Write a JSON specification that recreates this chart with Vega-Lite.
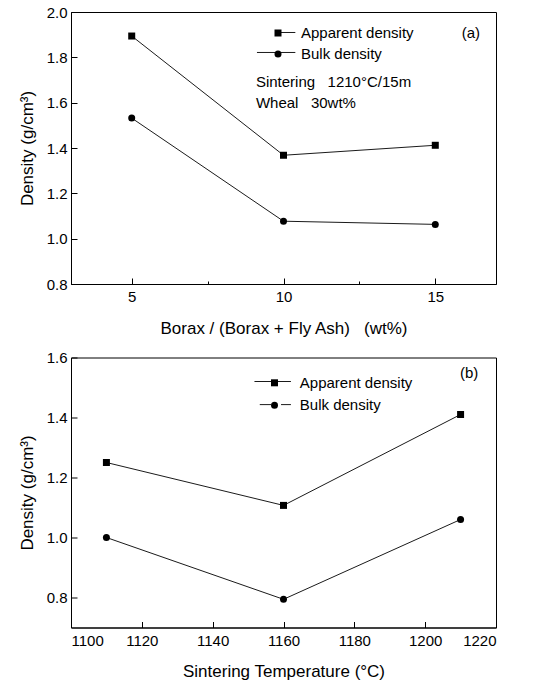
{
  "$schema": "https://vega.github.io/schema/vega-lite/v6.json",
  "background": "white",
  "padding": {"left": 17, "top": 4, "right": 5, "bottom": 5},
  "spacing": 12.5,
  "config": {
    "font": "Liberation Sans",
    "view": {"stroke": "black", "strokeWidth": 1},
    "axis": {
      "grid": false,
      "labelOverlap": false,
      "domainColor": "black",
      "tickColor": "black",
      "labelColor": "black",
      "titleColor": "black",
      "labelFont": "Liberation Sans",
      "titleFont": "Liberation Sans",
      "labelFontSize": 15,
      "titleFontSize": 17,
      "titleFontWeight": "normal"
    }
  },
  "datasets": {
    "a": [
      {"borax": 5, "density": 1.894, "series": "Apparent density"},
      {"borax": 10, "density": 1.368, "series": "Apparent density"},
      {"borax": 15, "density": 1.412, "series": "Apparent density"},
      {"borax": 5, "density": 1.532, "series": "Bulk density"},
      {"borax": 10, "density": 1.077, "series": "Bulk density"},
      {"borax": 15, "density": 1.063, "series": "Bulk density"}
    ],
    "b": [
      {"temp": 1110, "density": 1.25, "series": "Apparent density"},
      {"temp": 1160, "density": 1.107, "series": "Apparent density"},
      {"temp": 1210, "density": 1.41, "series": "Apparent density"},
      {"temp": 1110, "density": 1.0, "series": "Bulk density"},
      {"temp": 1160, "density": 0.794, "series": "Bulk density"},
      {"temp": 1210, "density": 1.06, "series": "Bulk density"}
    ]
  },
  "resolve": {"scale": {"shape": "independent"}, "legend": {"shape": "independent"}},
  "vconcat": [
    {
      "width": 425,
      "height": 272,
      "layer": [
        {
          "data": {"name": "a"},
          "mark": {"type": "line", "color": "black", "strokeWidth": 0.9},
          "encoding": {
            "x": {"field": "borax", "type": "quantitative",
              "scale": {"domain": [3, 17], "nice": false, "zero": false},
              "axis": {
                "title": "Borax / (Borax + Fly Ash)\u00a0\u00a0\u00a0(wt%)",
                "values": [5, 7.5, 10, 12.5, 15],
                "labelExpr": "datum.value % 5 == 0 ? datum.label : ''",
                "tickSize": {"condition": {"test": "datum.value % 5 != 0", "value": -3}, "value": -6},
                "labelPadding": 11.5,
                "titlePadding": 13
              }
            },
            "y": {"field": "density", "type": "quantitative",
              "scale": {"domain": [0.8, 2.0], "nice": false, "zero": false},
              "axis": {
                "title": "Density (g/cm³)",
                "values": [0.8, 0.9, 1.0, 1.1, 1.2, 1.3, 1.4, 1.5, 1.6, 1.7, 1.8, 1.9, 2.0],
                "format": ".1f",
                "labelExpr": "round(datum.value*10) % 2 == 0 ? datum.label : ''",
                "tickSize": {"condition": {"test": "round(datum.value*10) % 2 == 1", "value": -3}, "value": -6},
                "labelPadding": 10,
                "titlePadding": 10
              }
            },
            "detail": {"field": "series"}
          }
        },
        {
          "data": {"values": [{}]},
          "mark": {"type": "rule", "color": "black", "strokeWidth": 0.9},
          "encoding": {
            "x": {"datum": 9.80, "type": "quantitative"},
            "x2": {"datum": 10.39},
            "y": {"datum": 1.9096, "type": "quantitative"}
          }
        },
        {
          "data": {"values": [{}]},
          "mark": {"type": "rule", "color": "black", "strokeWidth": 0.9},
          "encoding": {
            "x": {"datum": 9.126, "type": "quantitative"},
            "x2": {"datum": 10.39},
            "y": {"datum": 1.8214, "type": "quantitative"}
          }
        },
        {
          "data": {"name": "a"},
          "mark": {"type": "point", "filled": true, "color": "black", "opacity": 1, "size": 49},
          "encoding": {
            "x": {"field": "borax", "type": "quantitative"},
            "y": {"field": "density", "type": "quantitative"},
            "shape": {"field": "series", "type": "nominal",
              "scale": {"domain": ["Apparent density", "Bulk density"], "range": ["square", "circle"]},
              "legend": {
                "title": null,
                "orient": "none",
                "legendX": 199.5,
                "legendY": 13.5,
                "padding": 0,
                "symbolSize": 49,
                "symbolStrokeWidth": 0,
                "symbolFillColor": "black",
                "labelFontSize": 15,
                "labelFont": "Liberation Sans",
                "labelColor": "black",
                "labelOffset": 15.5,
                "rowPadding": 5
              }
            }
          }
        },
        {
          "data": {"values": [{}]},
          "mark": {"type": "text", "fontSize": 15, "font": "Liberation Sans", "color": "black", "align": "center", "baseline": "middle"},
          "encoding": {
            "x": {"datum": 16.17, "type": "quantitative"},
            "y": {"datum": 1.909, "type": "quantitative"},
            "text": {"value": "(a)"}
          }
        },
        {
          "data": {"values": [{}]},
          "mark": {"type": "text", "fontSize": 15, "font": "Liberation Sans", "color": "black", "align": "left", "baseline": "middle"},
          "encoding": {
            "x": {"datum": 9.09, "type": "quantitative"},
            "y": {"datum": 1.691, "type": "quantitative"},
            "text": {"value": "Sintering\u00a0\u00a0\u00a01210°C/15m"}
          }
        },
        {
          "data": {"values": [{}]},
          "mark": {"type": "text", "fontSize": 15, "font": "Liberation Sans", "color": "black", "align": "left", "baseline": "middle"},
          "encoding": {
            "x": {"datum": 9.09, "type": "quantitative"},
            "y": {"datum": 1.599, "type": "quantitative"},
            "text": {"value": "Wheal\u00a0\u00a0\u00a030wt%"}
          }
        }
      ]
    },
    {
      "width": 425,
      "height": 270,
      "layer": [
        {
          "data": {"name": "b"},
          "mark": {"type": "line", "color": "black", "strokeWidth": 0.9},
          "encoding": {
            "x": {"field": "temp", "type": "quantitative",
              "scale": {"domain": [1100, 1220], "nice": false, "zero": false},
              "axis": {
                "title": "Sintering Temperature (°C)",
                "values": [1100, 1110, 1120, 1130, 1140, 1150, 1160, 1170, 1180, 1190, 1200, 1210, 1220],
                "format": "d",
                "labelExpr": "datum.value % 20 == 0 ? datum.label : ''",
                "tickSize": {"condition": {"test": "datum.value % 20 != 0", "value": -3}, "value": -6},
                "labelPadding": 11.5,
                "titlePadding": 15
              }
            },
            "y": {"field": "density", "type": "quantitative",
              "scale": {"domain": [0.7, 1.6], "nice": false, "zero": false},
              "axis": {
                "title": "Density (g/cm³)",
                "values": [0.8, 0.9, 1.0, 1.1, 1.2, 1.3, 1.4, 1.5, 1.6],
                "format": ".1f",
                "labelExpr": "round(datum.value*10) % 2 == 0 ? datum.label : ''",
                "tickSize": {"condition": {"test": "round(datum.value*10) % 2 == 1", "value": -3}, "value": -6},
                "labelPadding": 10,
                "titlePadding": 10
              }
            },
            "detail": {"field": "series"}
          }
        },
        {
          "data": {"values": [{}]},
          "mark": {"type": "rule", "color": "black", "strokeWidth": 0.9},
          "encoding": {
            "x": {"datum": 1151.8, "type": "quantitative"},
            "x2": {"datum": 1162.1},
            "y": {"datum": 1.52, "type": "quantitative"}
          }
        },
        {
          "data": {"values": [{}]},
          "mark": {"type": "rule", "color": "black", "strokeWidth": 0.9},
          "encoding": {
            "x": {"datum": 1153.3, "type": "quantitative"},
            "x2": {"datum": 1156.5},
            "y": {"datum": 1.443, "type": "quantitative"}
          }
        },
        {
          "data": {"values": [{}]},
          "mark": {"type": "rule", "color": "black", "strokeWidth": 0.9},
          "encoding": {
            "x": {"datum": 1159.3, "type": "quantitative"},
            "x2": {"datum": 1162.1},
            "y": {"datum": 1.443, "type": "quantitative"}
          }
        },
        {
          "data": {"name": "b"},
          "mark": {"type": "point", "filled": true, "color": "black", "opacity": 1, "size": 49},
          "encoding": {
            "x": {"field": "temp", "type": "quantitative"},
            "y": {"field": "density", "type": "quantitative"},
            "shape": {"field": "series", "type": "nominal",
              "scale": {"domain": ["Apparent density", "Bulk density"], "range": ["square", "circle"]},
              "legend": {
                "title": null,
                "orient": "none",
                "legendX": 196,
                "legendY": 17.8,
                "padding": 0,
                "symbolSize": 49,
                "symbolStrokeWidth": 0,
                "symbolFillColor": "black",
                "labelFontSize": 15,
                "labelFont": "Liberation Sans",
                "labelColor": "black",
                "labelOffset": 17.8,
                "rowPadding": 6.4
              }
            }
          }
        },
        {
          "data": {"values": [{}]},
          "mark": {"type": "text", "fontSize": 15, "font": "Liberation Sans", "color": "black", "align": "center", "baseline": "middle"},
          "encoding": {
            "x": {"datum": 1212.4, "type": "quantitative"},
            "y": {"datum": 1.55, "type": "quantitative"},
            "text": {"value": "(b)"}
          }
        }
      ]
    }
  ]
}
